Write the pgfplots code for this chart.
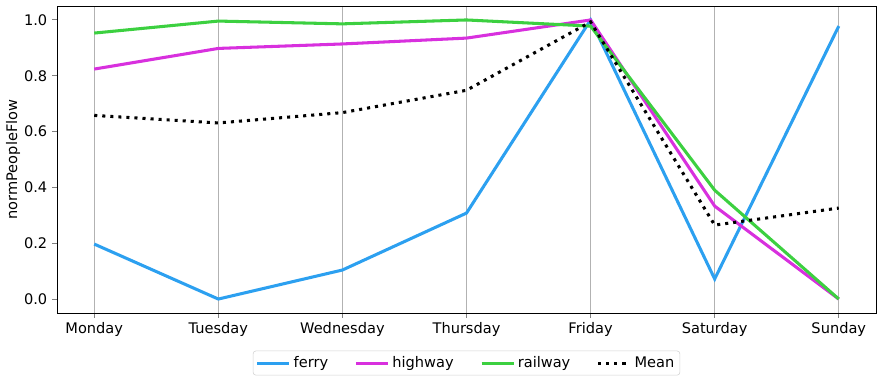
\documentclass[border=0pt]{standalone}
\usepackage{fontspec}
\setmainfont{DejaVu Sans}
\usepackage{pgfplots}
\pgfplotsset{compat=1.18}
\definecolor{ferryc}{RGB}{44,160,240}
\definecolor{highwayc}{RGB}{216,48,222}
\definecolor{railwayc}{RGB}{60,208,64}

\begin{document}
\begin{tikzpicture}
  \useasboundingbox (-41.04pt,-51.12pt) rectangle (594.72pt,225.36pt);
  \begin{axis}[
    at={(0,0)}, anchor=south west,
    scale only axis, width=589.68pt, height=221.04pt,
    font=\fontsize{10.5pt}{12.5pt}\selectfont,
    /pgf/number format/assume math mode=true,
    xmin=-0.3, xmax=6.3, ymin=-0.05, ymax=1.05,
    xtick={0,...,6},
    xticklabels={Monday,Tuesday,Wednesday,Thursday,Friday,Saturday,Sunday},
    ytick={0,0.2,0.4,0.6,0.8,1.0},
    yticklabel style={/pgf/number format/.cd,fixed,fixed zerofill,precision=1},
    tick align=outside, tick pos=left,
    major tick length=3.5pt,
    tick style={line width=0.7pt},
    xmajorgrids, grid style={gray!60, line width=0.6pt},
    ylabel={normPeopleFlow},
    ylabel style={yshift=-4pt},
    legend columns=4,
    legend style={at={(0.5,-0.163)}, anchor=center, draw=gray!35, rounded corners=2pt,
      /tikz/every even column/.append style={column sep=17pt},
      inner sep=2pt},
    legend image code/.code={\draw[#1] (0pt,0pt) -- (23pt,0pt);},
  ]
    \addplot[ferryc, line width=2.2pt] coordinates {(0,0.197)(1,0)(2,0.104)(3,0.308)(4,1.0)(5,0.072)(6,0.978)};
    \addlegendentry{ferry}
    \addplot[highwayc, line width=2.2pt] coordinates {(0,0.824)(1,0.898)(2,0.914)(3,0.935)(4,1.0)(5,0.333)(6,0)};
    \addlegendentry{highway}
    \addplot[railwayc, line width=2.2pt] coordinates {(0,0.953)(1,0.996)(2,0.986)(3,1.0)(4,0.978)(5,0.39)(6,0)};
    \addlegendentry{railway}
    \addplot[black, line width=2.2pt, dash pattern=on 2.2pt off 3.6pt] coordinates {(0,0.658)(1,0.631)(2,0.668)(3,0.748)(4,0.993)(5,0.265)(6,0.326)};
    \addlegendentry{Mean}
  \end{axis}
\end{tikzpicture}
\end{document}
